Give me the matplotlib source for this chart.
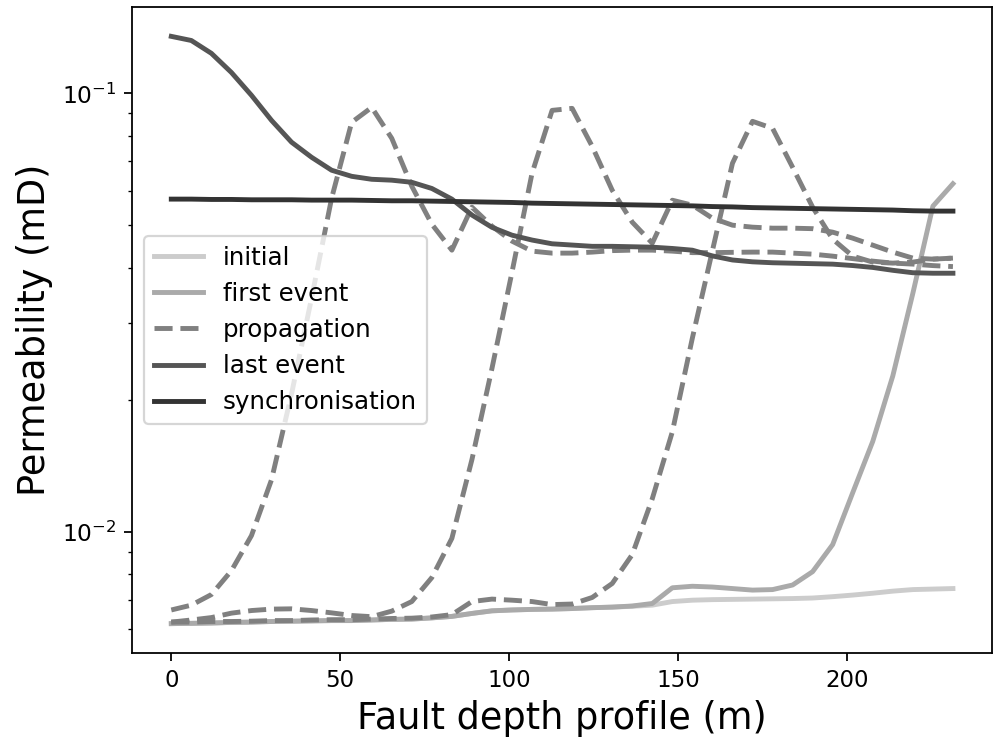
import numpy as np
import matplotlib
matplotlib.use("Agg")
import matplotlib.pyplot as plt

FONTSIZE = 16.5
DPI = 160
LINEWIDTH = 2.2

plt.rcParams.update({
    "font.family": "DejaVu Sans",
    "font.size": FONTSIZE,
    "xtick.labelsize": 10.3,
    "ytick.labelsize": 10.5,
    "legend.fontsize": 11})

# Depth samples along the fault (m)
depth = np.linspace(0, 231.4, 40)

# Permeability profiles (mD)
initial = [0.00618, 0.00619, 0.00620, 0.00622, 0.00623, 0.00625, 0.00626, 0.00627, 0.00628, 0.00628,
           0.00630, 0.00632, 0.00633, 0.00637, 0.00642, 0.00652, 0.00661, 0.00664, 0.00666, 0.00667,
           0.00669, 0.00672, 0.00674, 0.00677, 0.00681, 0.00694, 0.00699, 0.00701, 0.00702, 0.00703,
           0.00704, 0.00705, 0.00707, 0.00712, 0.00718, 0.00725, 0.00733, 0.00739, 0.00741, 0.00743]

first_event = [0.00618, 0.00619, 0.00620, 0.00622, 0.00623, 0.00625, 0.00626, 0.00627, 0.00628, 0.00628,
               0.00630, 0.00632, 0.00633, 0.00637, 0.00642, 0.00652, 0.00661, 0.00664, 0.00666, 0.00667,
               0.00669, 0.00672, 0.00674, 0.00678, 0.00687, 0.00746, 0.00752, 0.00749, 0.00743, 0.00737,
               0.00739, 0.00757, 0.00812, 0.00936, 0.01229, 0.01609, 0.02269, 0.03500, 0.05531, 0.06223]

# three snapshots of the propagating front (late, middle, early)
propagation_1 = [0.00664, 0.00681, 0.00720, 0.00816, 0.00981, 0.01315, 0.02064, 0.03415, 0.05767, 0.08590,
                 0.09292, 0.07899, 0.06142, 0.05032, 0.04391, 0.05502, 0.04980, 0.04604, 0.04368, 0.04323,
                 0.04323, 0.04346, 0.04380, 0.04391, 0.04391, 0.04368, 0.04334, 0.04334, 0.04341, 0.04346,
                 0.04346, 0.04323, 0.04300, 0.04255, 0.04200, 0.04145, 0.04102, 0.04081, 0.04049, 0.04028]

propagation_2 = [0.00623, 0.00630, 0.00638, 0.00653, 0.00662, 0.00667, 0.00668, 0.00662, 0.00654, 0.00645,
                 0.00641, 0.00660, 0.00694, 0.00787, 0.00967, 0.01462, 0.02360, 0.03913, 0.06575, 0.09147,
                 0.09244, 0.07574, 0.06014, 0.05086, 0.04555, 0.05707, 0.05560, 0.05193, 0.05006, 0.04954,
                 0.04928, 0.04928, 0.04915, 0.04826, 0.04676, 0.04508, 0.04346, 0.04211, 0.04189, 0.04211]

propagation_3 = [0.00623, 0.00623, 0.00625, 0.00625, 0.00626, 0.00628, 0.00628, 0.00630, 0.00631, 0.00631,
                 0.00633, 0.00635, 0.00636, 0.00640, 0.00648, 0.00694, 0.00703, 0.00699, 0.00694, 0.00683,
                 0.00685, 0.00709, 0.00763, 0.00888, 0.01191, 0.01692, 0.02769, 0.04380, 0.06929, 0.08635,
                 0.08324, 0.06785, 0.05502, 0.04652, 0.04255, 0.04124, 0.04102, 0.04124, 0.04189, 0.04211]

last_event = [0.1349, 0.1320, 0.1234, 0.1116, 0.0990, 0.0868, 0.0774, 0.0715, 0.0668, 0.0647,
              0.0637, 0.0634, 0.0627, 0.0607, 0.0574, 0.0528, 0.0495, 0.0475, 0.0463, 0.0454,
              0.0451, 0.0448, 0.0448, 0.0447, 0.0446, 0.0443, 0.0439, 0.0426, 0.0417, 0.0413,
              0.0411, 0.0410, 0.0409, 0.0408, 0.0405, 0.0401, 0.0395, 0.0390, 0.0389, 0.0389]

synchronisation = [0.0574, 0.0574, 0.0573, 0.0573, 0.0572, 0.0572, 0.0572, 0.0571, 0.0571, 0.0571,
                   0.0570, 0.0569, 0.0569, 0.0568, 0.0567, 0.0566, 0.0565, 0.0564, 0.0562, 0.0561,
                   0.0560, 0.0559, 0.0558, 0.0557, 0.0556, 0.0555, 0.0554, 0.0552, 0.0551, 0.0549,
                   0.0548, 0.0547, 0.0546, 0.0545, 0.0544, 0.0543, 0.0542, 0.0540, 0.0539, 0.0539]

fig, ax = plt.subplots(figsize=(994 / DPI, 744 / DPI), dpi=DPI)
fig.subplots_adjust(left=0.133, right=0.998, top=0.9906, bottom=0.1223)

ax.plot(depth, initial, color="#cccccc", lw=LINEWIDTH, label="initial")
ax.plot(depth, first_event, color="#aaaaaa", lw=LINEWIDTH, label="first event")
ax.plot(depth, propagation_1, "--", color="#808080", lw=LINEWIDTH, label="propagation")
ax.plot(depth, propagation_2, "--", color="#808080", lw=LINEWIDTH)
ax.plot(depth, propagation_3, "--", color="#808080", lw=LINEWIDTH)
ax.plot(depth, last_event, color="#555555", lw=LINEWIDTH, label="last event")
ax.plot(depth, synchronisation, color="#333333", lw=LINEWIDTH, label="synchronisation")

ax.set_yscale("log")
ax.set_xlabel("Fault depth profile (m)")
ax.set_ylabel("Permeability (mD)")
ax.legend(loc="center left")

fig.savefig("out.png", dpi=DPI)
